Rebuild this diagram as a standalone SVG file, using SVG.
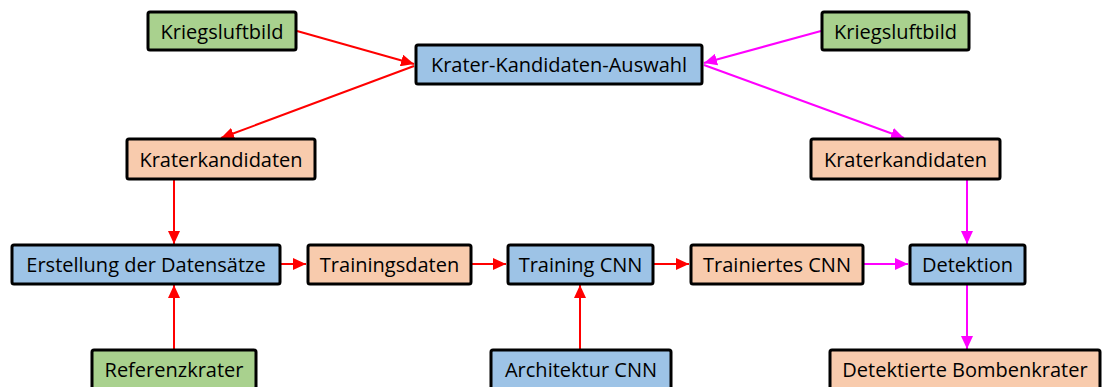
<svg xmlns="http://www.w3.org/2000/svg" width="1102" height="387" viewBox="0 0 1102 387">
  <style>
    .box { stroke: #000; stroke-width: 3; }
    .green { fill: #A9D18E; }
    .blue { fill: #9DC3E6; }
    .peach { fill: #F8CBAD; }
    .label { font-family: "Open Sans", "Liberation Sans", Arial, sans-serif; font-size: 20px; fill: #000; text-anchor: middle; dominant-baseline: central; }
    .red { stroke: #FF0000; stroke-width: 2; fill: none; }
    .mag { stroke: #FF00FF; stroke-width: 2; fill: none; }
  </style>
  <defs>
    <marker id="arrowRed" viewBox="0 0 13 12" refX="13" refY="6" markerWidth="13" markerHeight="12" markerUnits="userSpaceOnUse" orient="auto">
      <path d="M0,0 L13,6 L0,12 Z" fill="#FF0000"/>
    </marker>
    <marker id="arrowMag" viewBox="0 0 13 12" refX="13" refY="6" markerWidth="13" markerHeight="12" markerUnits="userSpaceOnUse" orient="auto">
      <path d="M0,0 L13,6 L0,12 Z" fill="#FF00FF"/>
    </marker>
  </defs>
  <rect width="1102" height="387" fill="#fff"/>

  <!-- connectors -->
  <g id="connectors">
    <line class="red" x1="297" y1="31" x2="414" y2="64" marker-end="url(#arrowRed)"/>
    <line class="red" x1="414" y1="66" x2="221" y2="138" marker-end="url(#arrowRed)"/>
    <line class="mag" x1="821" y1="31" x2="704" y2="63" marker-end="url(#arrowMag)"/>
    <line class="mag" x1="704" y1="65" x2="904" y2="138" marker-end="url(#arrowMag)"/>
    <line class="red" x1="174" y1="180" x2="174" y2="244" marker-end="url(#arrowRed)"/>
    <line class="red" x1="174" y1="370" x2="174" y2="285" marker-end="url(#arrowRed)"/>
    <line class="red" x1="281" y1="264" x2="306" y2="264" marker-end="url(#arrowRed)"/>
    <line class="red" x1="472" y1="264" x2="506" y2="264" marker-end="url(#arrowRed)"/>
    <line class="red" x1="654" y1="264" x2="689" y2="264" marker-end="url(#arrowRed)"/>
    <line class="red" x1="580" y1="349" x2="580" y2="285" marker-end="url(#arrowRed)"/>
    <line class="mag" x1="864" y1="264" x2="908" y2="264" marker-end="url(#arrowMag)"/>
    <line class="mag" x1="967" y1="180" x2="967" y2="244" marker-end="url(#arrowMag)"/>
    <line class="mag" x1="967" y1="285" x2="967" y2="349" marker-end="url(#arrowMag)"/>
  </g>

  <!-- nodes -->
  <g id="kriegsluftbild-left">
    <rect class="box green" x="148" y="12" width="148" height="38" rx="2"/>
    <text class="label" x="222" y="31">Kriegsluftbild</text>
  </g>
  <g id="kriegsluftbild-right">
    <rect class="box green" x="822" y="12" width="147" height="38" rx="2"/>
    <text class="label" x="895.5" y="31">Kriegsluftbild</text>
  </g>
  <g id="krater-auswahl">
    <rect class="box blue" x="416" y="45" width="286" height="39" rx="2"/>
    <text class="label" x="559" y="64.5">Krater-Kandidaten-Auswahl</text>
  </g>
  <g id="kraterkandidaten-left">
    <rect class="box peach" x="127" y="139" width="188" height="40" rx="2"/>
    <text class="label" x="221" y="159">Kraterkandidaten</text>
  </g>
  <g id="kraterkandidaten-right">
    <rect class="box peach" x="811" y="139" width="189" height="40" rx="2"/>
    <text class="label" x="905.5" y="159">Kraterkandidaten</text>
  </g>
  <g id="erstellung">
    <rect class="box blue" x="12" y="245" width="268" height="39" rx="2"/>
    <text class="label" x="146" y="264.5">Erstellung der Datensätze</text>
  </g>
  <g id="trainingsdaten">
    <rect class="box peach" x="308" y="245" width="163" height="39" rx="2"/>
    <text class="label" x="389.5" y="264.5">Trainingsdaten</text>
  </g>
  <g id="training-cnn">
    <rect class="box blue" x="508" y="245" width="145" height="39" rx="2"/>
    <text class="label" x="580.5" y="264.5">Training CNN</text>
  </g>
  <g id="trainiertes-cnn">
    <rect class="box peach" x="691" y="245" width="172" height="39" rx="2"/>
    <text class="label" x="777" y="264.5">Trainiertes CNN</text>
  </g>
  <g id="detektion">
    <rect class="box blue" x="910" y="245" width="115" height="39" rx="2"/>
    <text class="label" x="967.5" y="264.5">Detektion</text>
  </g>
  <g id="referenzkrater">
    <rect class="box green" x="92" y="350" width="164" height="40" rx="2"/>
    <text class="label" x="174" y="369">Referenzkrater</text>
  </g>
  <g id="architektur-cnn">
    <rect class="box blue" x="491" y="350" width="180" height="40" rx="2"/>
    <text class="label" x="581" y="369">Architektur CNN</text>
  </g>
  <g id="detektierte-bombenkrater">
    <rect class="box peach" x="830" y="350" width="270" height="40" rx="2"/>
    <text class="label" x="965" y="369">Detektierte Bombenkrater</text>
  </g>
</svg>
